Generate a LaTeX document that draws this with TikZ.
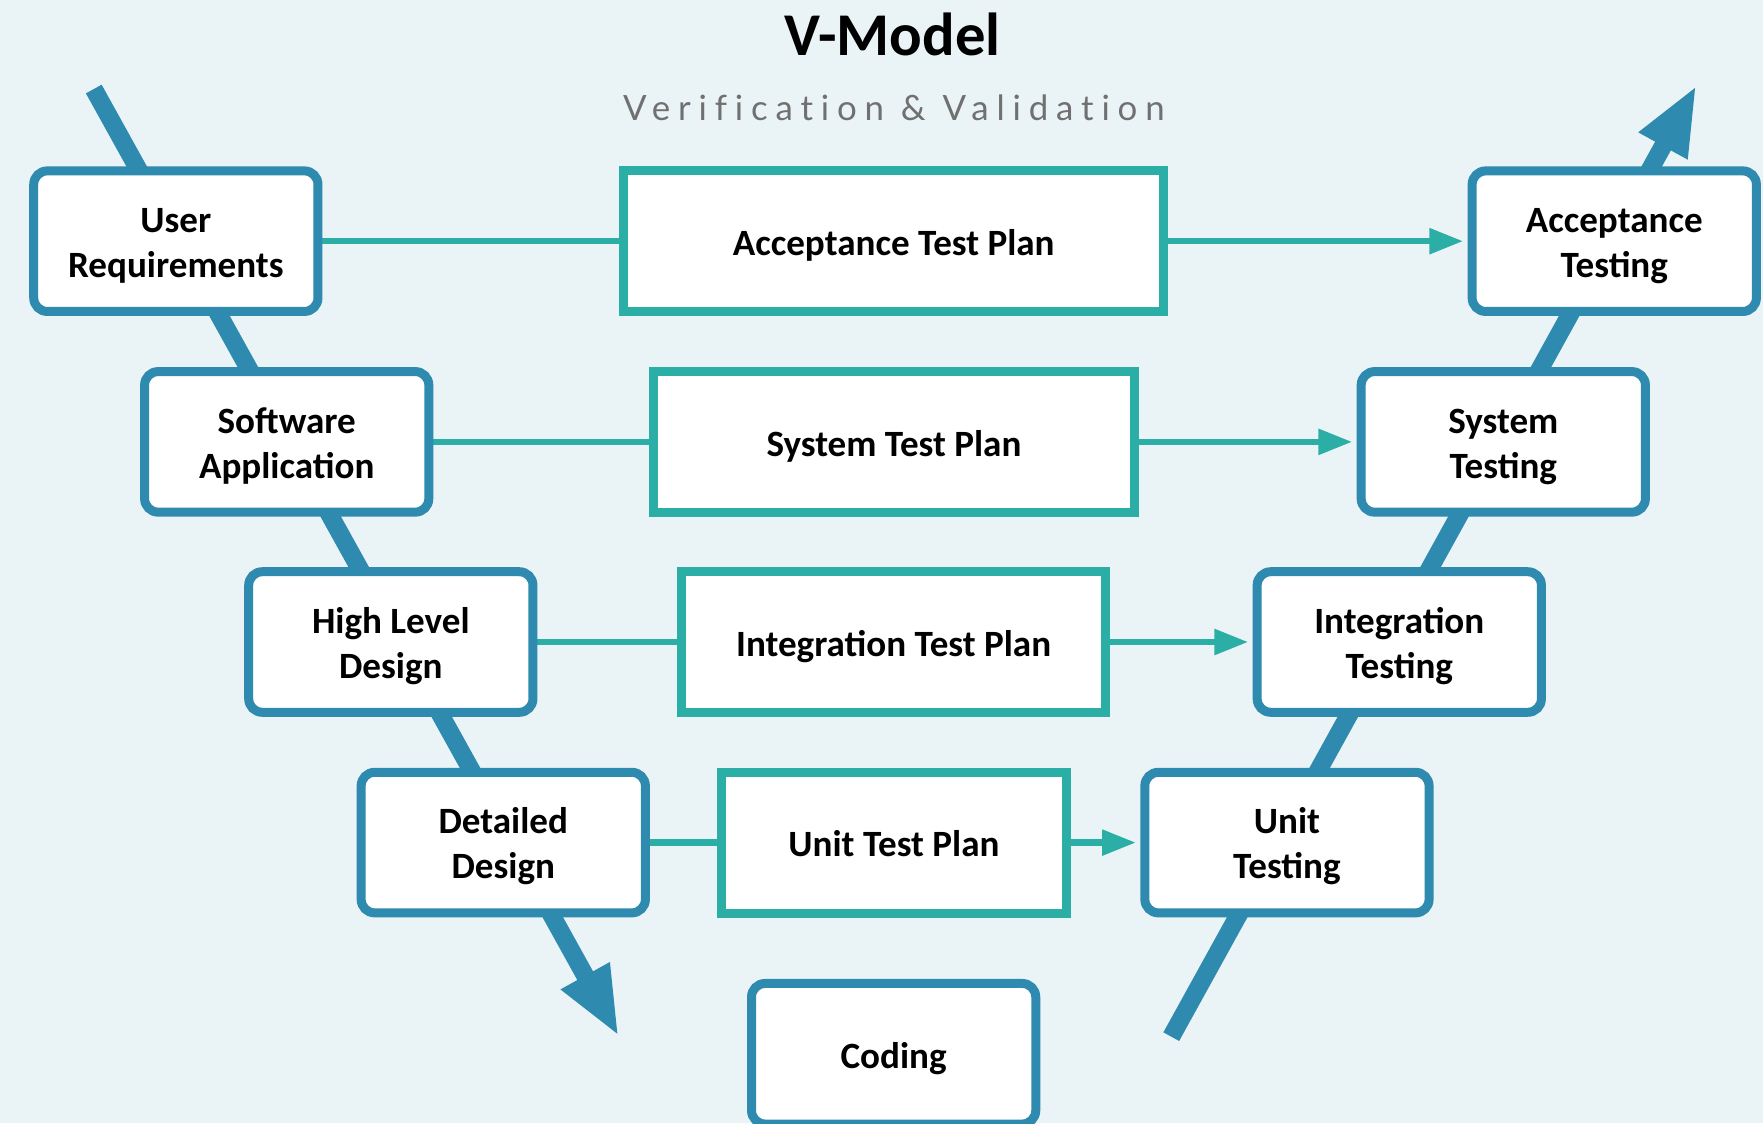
\documentclass[tikz,border=0pt]{standalone}
\usepackage{fontspec}
\setmainfont{Carlito}
\newfontfamily\subfont[LetterSpace=22.5,Ligatures=CommonOff]{Lato}
\usetikzlibrary{arrows.meta}
\definecolor{vblue}{RGB}{47,138,176}
\definecolor{vteal}{RGB}{42,174,166}
\definecolor{vbg}{RGB}{234,244,246}
\definecolor{vgray}{RGB}{112,112,112}
\pgfdeclarelayer{back}
\pgfsetlayers{back,main}
\newcommand\vtwo[2]{\raisebox{3.85pt}[0pt][0pt]{\begin{tabular}[t]{@{}c@{}}#1\\#2\end{tabular}}}
\newcommand\vone[1]{\raisebox{-6.4pt}[0pt][0pt]{#1}}
\begin{document}
\begin{tikzpicture}[x=0.5pt,y=-0.5pt,
  boxfont/.style={font=\fontsize{16.5}{20}\selectfont\bfseries},
  stage/.style={boxfont, draw=vblue, line width=4pt, fill=white, rounded corners=6pt,
    minimum width=126.4pt, minimum height=62.5pt, inner sep=0pt},
  plan/.style={boxfont, draw=vteal, line width=4pt, fill=white,
    minimum height=62.7pt, inner sep=0pt},
  link/.style={draw=vteal, line width=2.8pt},
  linkarrow/.style={link, -{Triangle[length=15pt,width=11pt]}, shorten >=2pt},
  vpath/.style={draw=vblue, line width=8pt, -{Triangle[length=31pt,width=22.5pt]}},
]
\useasboundingbox (0,0) rectangle (1568,999);
\begin{pgfonlayer}{back}
  \fill[vbg] (0,0) rectangle (1568,999);
\end{pgfonlayer}

% titles
\node[anchor=base, inner sep=0pt] (title) at (794,49) {\fontsize{27}{30}\selectfont\bfseries V-Model};
\node[anchor=base, inner sep=0pt, text=vgray] (subtitle) at (795,107) {\subfont\fontsize{15.5}{18}\selectfont Verification \& Validation};

% left column
\node[stage] (ur)  at (156.4,214.5) {\vtwo{User}{Requirements}};
\node[stage] (sa)  at (255.0,393.0) {\vtwo{Software}{Application}};
\node[stage] (hld) at (347.6,571.0) {\vtwo{High Level}{Design}};
\node[stage] (dd)  at (447.6,749.4) {\vtwo{Detailed}{Design}};
% right column
\node[stage] (at)  at (1435.7,214.5) {\vtwo{Acceptance}{Testing}};
\node[stage] (st)  at (1337.0,393.0) {\vtwo{System}{Testing}};
\node[stage] (it)  at (1244.5,571.0) {\vtwo{Integration}{Testing}};
\node[stage] (ut)  at (1144.6,749.4) {\vtwo{Unit}{Testing}};
% bottom
\node[stage] (code) at (794.8,937.2) {\vone{Coding}};
% plans
\node[plan, minimum width=240.1pt] (atp) at (794.9,214.5) {\vone{Acceptance Test Plan}};
\node[plan, minimum width=213.6pt] (stp) at (795.1,393.0) {\vone{System Test Plan}};
\node[plan, minimum width=188.7pt] (itp) at (794.8,571.0) {\vone{Integration Test Plan}};
\node[plan, minimum width=153.1pt] (utp) at (795.1,749.4) {\vone{Unit Test Plan}};

\coordinate (ltop) at (83.4,79.2);
\coordinate (ltip) at (550.5,922);
\coordinate (rbot) at (1041.7,922);
\coordinate (rtip) at (1509,75.6);

\begin{pgfonlayer}{back}
  \draw[vpath] (ltop) -- (ltip);
  \draw[vpath] (rbot) -- (rtip);
  \draw[link] (ur) -- (atp);
  \draw[linkarrow] (atp) -- (at);
  \draw[link] (sa) -- (stp);
  \draw[linkarrow] (stp) -- (st);
  \draw[link] (hld) -- (itp);
  \draw[linkarrow] (itp) -- (it);
  \draw[link] (dd) -- (utp);
  \draw[linkarrow] (utp) -- (ut);
\end{pgfonlayer}
\end{tikzpicture}
\end{document}
